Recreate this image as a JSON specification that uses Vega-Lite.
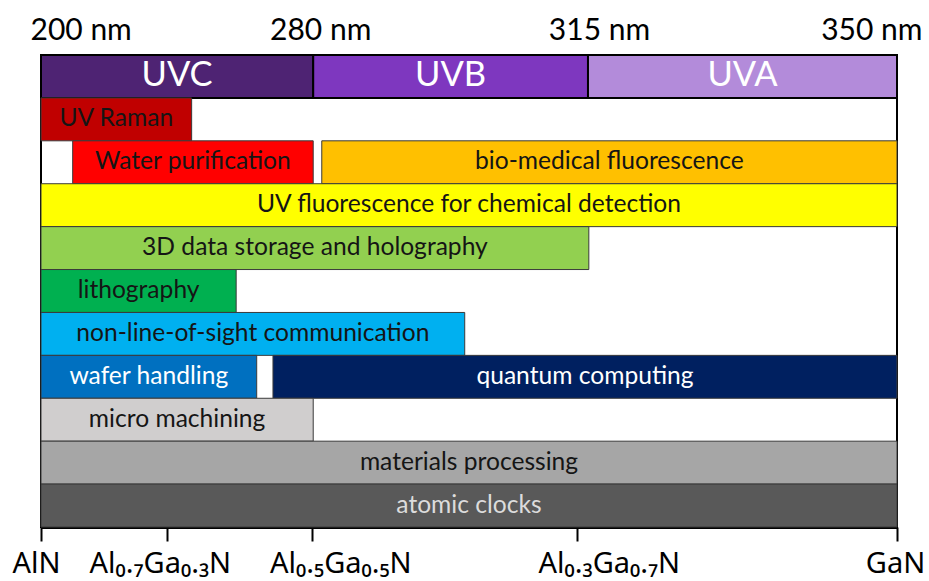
{
  "$schema": "https://vega.github.io/schema/vega-lite/v6.json",
  "width": 856,
  "height": 472,
  "autosize": "none",
  "padding": {"left": 41, "top": 55, "right": 32, "bottom": 54},
  "background": "white",
  "config": {
    "font": "Lato",
    "view": {"stroke": "#000000", "strokeWidth": 2}
  },
  "datasets": {
    "bands": [
      {"row": 1, "name": "UVC", "start": 0, "end": 31.8},
      {"row": 1, "name": "UVB", "start": 31.8, "end": 63.9},
      {"row": 1, "name": "UVA", "start": 63.9, "end": 100},
      {"row": 2, "name": "UV Raman", "start": 0, "end": 17.6},
      {"row": 3, "name": "Water purification", "start": 3.7, "end": 31.8},
      {"row": 3, "name": "bio-medical fluorescence", "start": 32.8, "end": 100},
      {"row": 4, "name": "UV fluorescence for chemical detection", "start": 0, "end": 100},
      {"row": 5, "name": "3D data storage and holography", "start": 0, "end": 64.0},
      {"row": 6, "name": "lithography", "start": 0, "end": 22.8},
      {"row": 7, "name": "non-line-of-sight communication", "start": 0, "end": 49.5},
      {"row": 8, "name": "wafer handling", "start": 0, "end": 25.2},
      {"row": 8, "name": "quantum computing", "start": 27.1, "end": 100},
      {"row": 9, "name": "micro machining", "start": 0, "end": 31.8},
      {"row": 10, "name": "materials processing", "start": 0, "end": 100},
      {"row": 11, "name": "atomic clocks", "start": 0, "end": 100}
    ]
  },
  "data": {"name": "bands"},
  "resolve": {"axis": {"x": "independent"}},
  "layer": [
    {
      "mark": {"type": "rect"},
      "encoding": {
        "x": {
          "field": "start",
          "type": "quantitative",
          "scale": {"domain": [0, 100], "nice": false, "zero": false},
          "axis": {
            "orient": "bottom",
            "title": null,
            "grid": false,
            "values": [0, 14.7, 31.7, 62.6, 100],
            "labelExpr": "datum.value == 0 ? 'AlN' : datum.value == 14.7 ? 'Al₀.₇Ga₀.₃N' : datum.value == 31.7 ? 'Al₀.₅Ga₀.₅N' : datum.value == 62.6 ? 'Al₀.₃Ga₀.₇N' : 'GaN'",
            "domainColor": "#000000",
            "domainWidth": 3,
            "tickColor": "#000000",
            "tickWidth": 2,
            "tickSize": 14,
            "labelFont": "Noto Sans",
            "labelFontSize": 29,
            "labelColor": "#000000",
            "labelBaseline": "alphabetic",
            "labelAlign": "center",
            "labelPadding": 31,
            "labelFlush": false,
            "labelOverlap": false,
            "labelBound": false,
            "labelOffset": {"expr": "datum.value == 0 ? -5 : datum.value == 14.7 ? -7 : datum.value == 31.7 ? 28 : datum.value == 62.6 ? 32 : -2"}
          }
        },
        "x2": {"field": "end"},
        "y": {
          "field": "row",
          "type": "ordinal",
          "axis": null,
          "scale": {"paddingInner": 0, "paddingOuter": 0}
        },
        "fill": {
          "field": "name",
          "type": "nominal",
          "legend": null,
          "scale": {
            "domain": ["UVC", "UVB", "UVA", "UV Raman", "Water purification", "bio-medical fluorescence", "UV fluorescence for chemical detection", "3D data storage and holography", "lithography", "non-line-of-sight communication", "wafer handling", "quantum computing", "micro machining", "materials processing", "atomic clocks"],
            "range": ["#4E2373", "#7E37BF", "#B38BDA", "#C00000", "#FF0000", "#FFC000", "#FFFF00", "#92D050", "#00B050", "#00B0F0", "#0070C0", "#002060", "#D0CECE", "#A6A6A6", "#595959"]
          }
        },
        "stroke": {"condition": {"test": "datum.row == 1", "value": "#000000"}, "value": "#3a3a3a"},
        "strokeWidth": {"condition": {"test": "datum.row == 1", "value": 2}, "value": 1}
      }
    },
    {
      "transform": [{"calculate": "(datum.start + datum.end) / 2", "as": "mid"}],
      "mark": {"type": "text", "align": "center", "baseline": "middle"},
      "encoding": {
        "x": {
          "field": "mid",
          "type": "quantitative",
          "scale": {"domain": [0, 100], "nice": false, "zero": false},
          "axis": {
            "orient": "top",
            "title": null,
            "grid": false,
            "domain": false,
            "ticks": false,
            "tickSize": 0,
            "values": [0, 31.8, 63.9, 100],
            "labelExpr": "datum.value == 0 ? '200 nm' : datum.value == 31.8 ? '280 nm' : datum.value == 63.9 ? '315 nm' : '350 nm'",
            "labelFontSize": 30,
            "labelColor": "#000000",
            "labelBaseline": "alphabetic",
            "labelPadding": 16,
            "labelFlush": false,
            "labelOverlap": false,
            "labelBound": false,
            "labelAlign": {"expr": "datum.value == 0 ? 'left' : datum.value == 100 ? 'right' : 'center'"},
            "labelOffset": {"expr": "datum.value == 0 ? -11 : datum.value == 31.8 ? 7 : datum.value == 63.9 ? 11 : 25"}
          }
        },
        "y": {"field": "row", "type": "ordinal", "axis": null},
        "text": {"field": "name"},
        "size": {"condition": {"test": "datum.row == 1", "value": 34.5}, "value": 24.6},
        "color": {
          "condition": [
            {"test": "indexof(['UVC', 'UVB', 'UVA', 'wafer handling', 'quantum computing'], datum.name) >= 0", "value": "#ffffff"},
            {"test": "datum.name == 'atomic clocks'", "value": "#dcdcdc"}
          ],
          "value": "#151515"
        }
      }
    }
  ]
}
